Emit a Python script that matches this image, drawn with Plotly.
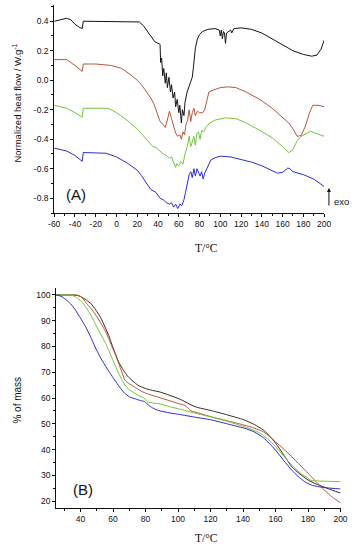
import plotly.graph_objects as go

# ---------------- DSC (A) data ----------------
dsc_black_x = [-60,-55,-48,-44,-40,-36,-33,-32,-20,0,20,22,26,30,34,37,40,41,42,42.5,43.5,44.5,45.5,47,48,49,50.5,52,53,54.5,56,57,58.5,60,61,62.5,63.5,65,66,68,70,71.5,73,74,75,76,78,80,83,88,95,99,100,101,102,103,104,105,106,108,110,111,113,120,130,140,150,160,170,180,188,193,197,200]
dsc_black_y = [0.40,0.41,0.42,0.41,0.38,0.36,0.35,0.40,0.40,0.40,0.40,0.395,0.37,0.33,0.29,0.26,0.25,0.25,0.24,0.12,0.15,0.03,0.08,-0.02,0.05,-0.05,0.02,-0.08,-0.03,-0.12,-0.08,-0.18,-0.13,-0.22,-0.17,-0.29,-0.20,-0.24,-0.15,-0.08,-0.04,0.0,0.02,0.08,0.16,0.22,0.28,0.31,0.33,0.345,0.35,0.34,0.30,0.34,0.28,0.33,0.32,0.25,0.32,0.33,0.34,0.32,0.35,0.355,0.345,0.32,0.28,0.235,0.20,0.175,0.163,0.17,0.21,0.27]

dsc_brown_x = [-60,-48,-40,-33,-32,-20,-5,5,14,20,24,29,33,36,39,42,45,47,49,51,53,55,57,59,61,62.5,64,65.5,67,68.5,70,71.5,73,74.6,76,78,80,83,85,87,89,92,96,100,107,115,125,138,150,160,166,170,174,178,182,186,189,195,200]
dsc_brown_y = [0.14,0.14,0.10,0.06,0.11,0.11,0.10,0.08,0.035,0.0,-0.03,-0.08,-0.12,-0.16,-0.22,-0.28,-0.30,-0.32,-0.27,-0.21,-0.26,-0.32,-0.36,-0.38,-0.37,-0.40,-0.35,-0.37,-0.30,-0.27,-0.20,-0.28,-0.22,-0.19,-0.24,-0.21,-0.22,-0.22,-0.20,-0.14,-0.08,-0.07,-0.06,-0.05,-0.045,-0.05,-0.08,-0.13,-0.19,-0.25,-0.29,-0.33,-0.38,-0.375,-0.31,-0.22,-0.17,-0.17,-0.18]

dsc_green_x = [-60,-48,-40,-33,-32,-20,-8,0,10,20,25,30,35,38,42,45,48,51,53,55,57,58,60,62,64,66,67,68.5,70,71.5,73,74.5,76,77.5,79,80.5,82,84,86,90,95,105,115,125,138,150,160,166,170,174,178,183,187,192,200]
dsc_green_y = [-0.17,-0.19,-0.22,-0.25,-0.19,-0.19,-0.19,-0.22,-0.27,-0.33,-0.37,-0.41,-0.45,-0.455,-0.48,-0.50,-0.51,-0.53,-0.52,-0.56,-0.59,-0.565,-0.58,-0.55,-0.57,-0.50,-0.48,-0.44,-0.38,-0.45,-0.42,-0.38,-0.44,-0.36,-0.35,-0.40,-0.34,-0.35,-0.32,-0.29,-0.27,-0.255,-0.26,-0.29,-0.34,-0.39,-0.45,-0.49,-0.47,-0.41,-0.38,-0.36,-0.345,-0.36,-0.38]

dsc_blue_x = [-60,-48,-40,-33,-32,-20,-10,0,10,20,24,30,33,38,42,45,48,51,53,55,57,59,61,63,65,66.5,68.5,70,71.6,73,74.6,76,77.5,79,80.5,82,83.5,85,88,91,95,100,110,120,130,140,150,155,160,163,165,167,170,180,190,200]
dsc_blue_y = [-0.46,-0.48,-0.51,-0.55,-0.49,-0.49,-0.495,-0.52,-0.56,-0.61,-0.645,-0.71,-0.74,-0.76,-0.80,-0.81,-0.83,-0.84,-0.83,-0.86,-0.84,-0.87,-0.84,-0.85,-0.81,-0.76,-0.70,-0.64,-0.62,-0.66,-0.60,-0.65,-0.60,-0.63,-0.65,-0.62,-0.67,-0.63,-0.585,-0.54,-0.525,-0.515,-0.52,-0.535,-0.555,-0.58,-0.615,-0.63,-0.625,-0.61,-0.595,-0.60,-0.62,-0.64,-0.67,-0.72]

# ---------------- TGA (B) data ----------------
tga_black_x = [25,30,35,38,40,43.6,46.5,49.4,52.4,55.4,57.4,59.4,61.4,63.4,66.4,69.3,72.3,75.3,79,83.2,89,95,101,110.6,120.5,130,140.7,147,152.5,156,160,165,170,175,180,185,190,195,200]
tga_black_y = [100,100,100,99.8,99.4,98,96.6,94.2,91.2,87.1,84.2,80.6,77.3,74.1,70.8,68.3,66.5,65,63.9,63.1,62.3,61,59.6,56.6,55.1,53.5,51.5,49.7,47.6,45.5,42.5,38,33.3,30.5,28.2,26.6,25.4,24.2,23.1]

tga_brown_x = [25,30,35,37.5,40.5,43.6,46.5,49.4,52.4,55.4,57.4,59.4,61.4,63.4,65.4,67.3,69.3,73,77.2,81.3,89,95,101,104,106,108,112,120.5,130,140.7,147,152.5,156,160,165,170,175,180,185,190,195,200]
tga_brown_y = [100,100,100,100,99.2,96.8,94.7,92.2,89.2,85.8,83,79.9,76.9,73.6,70.2,67,65.8,64.4,62.7,61.6,60.1,58.9,57.7,57.2,56.2,55,54.3,52.7,51.2,49.5,48.3,46.9,45.2,43,40.2,37.2,34,30.8,27.5,24.3,21.5,19.3]

tga_green_x = [25,30,34.5,37.5,40.5,43.6,46.5,49.4,52.4,55.4,57.4,59.4,61.4,63.4,65.4,67.3,70,73.2,77.2,79.2,81.2,85,89,95,101,110,120.5,130,140.7,146,150.6,155,160,165,170,175,180,182,186,190,200]
tga_green_y = [100,100,100,99,97.5,95,92,88.4,84.8,81.3,78.5,75.5,72.6,69.7,67.2,65,63.3,61.9,60.5,60,58.5,58,57.7,56.6,55.7,54.2,52.6,51,48.9,47.6,46.3,44.2,41.1,37.5,34,31,28.9,28,27.8,27.7,27.5]

tga_blue_x = [25,28,31,34,37,40,43,46,49,52,55,58,61,64,67,70,73,77,79.5,81,83,86,89,95,101,110,120.5,130,140.7,147,152.5,156,160,165,170,174,178,182,186,192,200]
tga_blue_y = [100,99.5,98.2,96.5,94,91,87.8,84,79.8,76,72.8,69.8,67,64.3,62,60.5,59.8,59,58.6,57.7,56.7,55.6,55,54.2,53.6,52.6,51.5,50,48.3,46.8,44.6,42.5,39.8,35.8,32,29.5,27.5,26.2,25.6,25.1,24.7]

# tick labels
dsc_xticks = list(range(-60, 201, 20))
dsc_xtext = [str(v) for v in dsc_xticks]
dsc_yticks = [-0.8, -0.6, -0.4, -0.2, 0.0, 0.2, 0.4]
dsc_ytext = ["-0.8", "-0.6", "-0.4", "-0.2", "0.0", "0.2", "0.4"]
tga_xticks = list(range(40, 201, 20))
tga_yticks = list(range(20, 101, 10))

# ---------------- colours ----------------
C_BLACK = "#141414"
C_BROWN = "#b8553a"
C_GREEN = "#74c23e"
C_BLUE = "#2c2ccc"
C_DARK = "#3a2828"

W, H = 361, 550
def fx(p): return p / W
def fy(p): return 1 - p / H

fig = go.Figure()
for xs, ys, c in [(dsc_black_x, dsc_black_y, C_BLACK), (dsc_brown_x, dsc_brown_y, C_BROWN),
                  (dsc_green_x, dsc_green_y, C_GREEN), (dsc_blue_x, dsc_blue_y, C_BLUE)]:
    fig.add_trace(go.Scatter(x=xs, y=ys, mode="lines", line=dict(color=c, width=1),
                             xaxis="x", yaxis="y", showlegend=False, hoverinfo="skip"))
for xs, ys, c in [(tga_black_x, tga_black_y, C_DARK), (tga_brown_x, tga_brown_y, C_BROWN),
                  (tga_green_x, tga_green_y, C_GREEN), (tga_blue_x, tga_blue_y, C_BLUE)]:
    fig.add_trace(go.Scatter(x=xs, y=ys, mode="lines", line=dict(color=c, width=1, shape="spline", smoothing=0.6),
                             xaxis="x2", yaxis="y2", showlegend=False, hoverinfo="skip"))

tickfont = dict(family="Arial, Liberation Sans, sans-serif", size=8.5, color="#111")
axbase = dict(showline=True, linecolor="#111", linewidth=1, showgrid=False, zeroline=False,
              ticks="outside", ticklen=3, tickwidth=1, tickcolor="#111", tickfont=tickfont,
              mirror=False, fixedrange=True)

fig.update_layout(
    width=W, height=H, margin=dict(l=0, r=0, t=0, b=0),
    paper_bgcolor="white", plot_bgcolor="white",
    xaxis=dict(axbase, domain=[fx(50), fx(330)], range=[-60, 200], anchor="y",
               tickmode="array", tickvals=dsc_xticks, ticktext=dsc_xtext,
               minor=dict(tickvals=list(range(-50, 200, 20)), ticks="outside", ticklen=2, tickcolor="#111")),
    yaxis=dict(axbase, domain=[fy(213), fy(5)], range=[-0.9, 0.51], anchor="x",
               tickmode="array", tickvals=dsc_yticks, ticktext=dsc_ytext,
               minor=dict(tickvals=[-0.9, -0.7, -0.5, -0.3, -0.1, 0.1, 0.3, 0.5], ticks="outside", ticklen=2, tickcolor="#111")),
    xaxis2=dict(axbase, domain=[fx(52), fx(347)], range=[25, 200], anchor="y2",
                tickmode="array", tickvals=tga_xticks,
                minor=dict(tickvals=list(range(30, 200, 20)), ticks="outside", ticklen=2, tickcolor="#111")),
    yaxis2=dict(axbase, domain=[fy(508), fy(288)], range=[17.3, 102.7], anchor="x2",
                tickmode="array", tickvals=tga_yticks,
                minor=dict(tickvals=list(range(25, 101, 10)), ticks="outside", ticklen=2, tickcolor="#111")),
)

serif = dict(family="Liberation Serif, Times New Roman, serif", size=11.5, color="#111")
sans = dict(family="Arial, Liberation Sans, sans-serif", color="#111")
ann = [
    dict(x=fx(208), y=fy(248), text="T/°C", font=serif),
    dict(x=fx(208), y=fy(538), text="T/°C", font=serif),
    dict(x=fx(11), y=fy(103), text="Normalized heat flow / W.g<sup>-1</sup>", textangle=-90, font=dict(sans, size=9.5)),
    dict(x=fx(11), y=fy(400), text="% of mass", textangle=-90, font=dict(sans, size=10)),
    dict(x=fx(73), y=fy(195), text="(A)", font=dict(sans, size=15)),
    dict(x=fx(80), y=fy(489), text="(B)", font=dict(sans, size=15)),
    dict(x=fx(348), y=fy(202), text="exo", font=dict(sans, size=9.5)),
]
for a in ann:
    fig.add_annotation(xref="paper", yref="paper", showarrow=False, xanchor="center", yanchor="middle", **a)

fig.add_annotation(xref="paper", yref="paper", x=fx(335), y=fy(188), ax=0, ay=19, text="",
                   showarrow=True, arrowhead=2, arrowsize=0.8, arrowwidth=1, arrowcolor="#111")

fig.write_html("out.html", config={"displayModeBar": False},
               post_script="document.body.style.margin='0';document.body.style.overflow='hidden';")
